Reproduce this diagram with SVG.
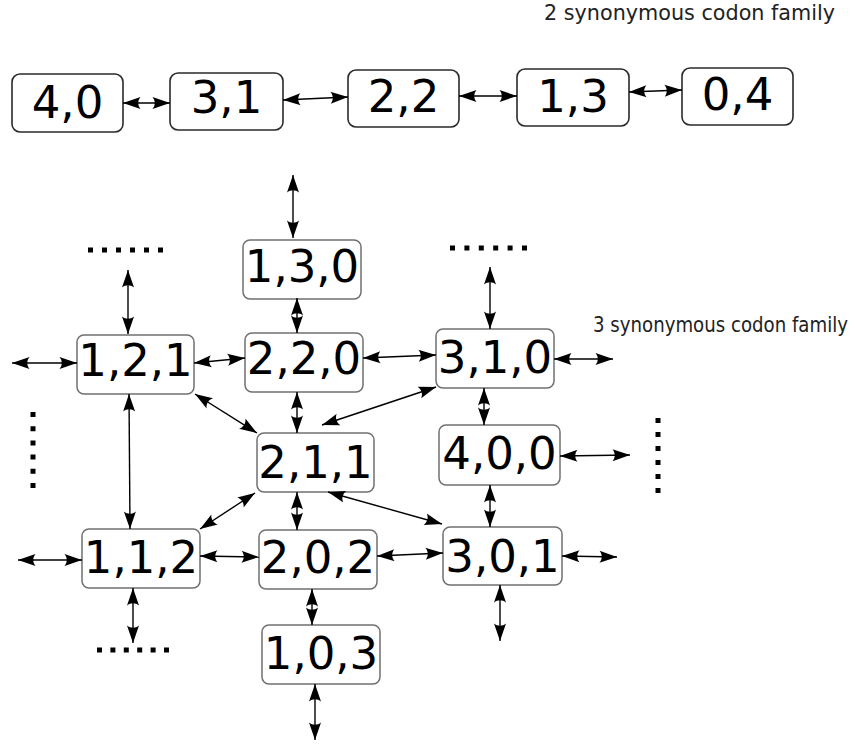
<svg xmlns="http://www.w3.org/2000/svg" width="855" height="745" viewBox="0 0 855 745">
<defs>
<marker id="ah" markerUnits="userSpaceOnUse" orient="auto-start-reverse" viewBox="-19 -8 20 16" markerWidth="20" markerHeight="16" refX="0" refY="0">
<path d="M0,0 L-17.5,-6 C-14.5,-2.5 -14.5,2.5 -17.5,6 Z" fill="#000"/>
</marker>
<style>
.top rect{fill:#fff;stroke:#2a2a2a;stroke-width:1.6}
.mid rect{fill:#fff;stroke:#707070;stroke-width:1.5}
.lbl{font-family:"DejaVu Sans",sans-serif;font-size:45px;fill:#000;text-anchor:middle}
.cap{font-family:"DejaVu Sans",sans-serif;font-size:20.5px;fill:#222}
.cap2{font-family:"DejaVu Sans Condensed","DejaVu Sans",sans-serif;font-stretch:condensed;font-size:20.5px;fill:#222}
#connectors line{stroke:#000;stroke-width:1.4;marker-start:url(#ah);marker-end:url(#ah)}
.dots line{stroke:#000;stroke-width:5}
</style>
</defs>
<rect width="855" height="745" fill="#fff"/>
<text class="cap" x="544" y="20" textLength="291" lengthAdjust="spacingAndGlyphs">2 synonymous codon family</text>
<text class="cap2" x="593" y="332" textLength="255" lengthAdjust="spacingAndGlyphs">3 synonymous codon family</text>

<g id="n40" class="top"><rect x="12" y="74" width="111" height="58" rx="8"/><text class="lbl" x="67.5" y="118">4,0</text></g>
<g id="n31" class="top"><rect x="170" y="73" width="113" height="57" rx="8"/><text class="lbl" x="226.5" y="113">3,1</text></g>
<g id="n22" class="top"><rect x="348" y="70" width="111" height="57" rx="8"/><text class="lbl" x="403.5" y="112">2,2</text></g>
<g id="n13" class="top"><rect x="517" y="69" width="112" height="57" rx="8"/><text class="lbl" x="573" y="112">1,3</text></g>
<g id="n04" class="top"><rect x="682" y="68" width="111" height="57" rx="8"/><text class="lbl" x="737.5" y="110">0,4</text></g>

<g id="n130" class="mid"><rect x="243" y="240" width="118" height="59" rx="7"/><text class="lbl" x="302" y="282">1,3,0</text></g>
<g id="n121" class="mid"><rect x="77" y="335" width="117" height="59" rx="7"/><text class="lbl" x="135.5" y="376">1,2,1</text></g>
<g id="n220" class="mid"><rect x="245" y="333" width="118" height="59" rx="7"/><text class="lbl" x="304" y="374">2,2,0</text></g>
<g id="n310" class="mid"><rect x="436" y="329" width="118" height="59" rx="7"/><text class="lbl" x="495" y="373">3,1,0</text></g>
<g id="n400" class="mid"><rect x="439" y="425" width="121" height="60" rx="7"/><text class="lbl" x="499.5" y="469">4,0,0</text></g>
<g id="n211" class="mid"><rect x="257" y="433" width="117" height="59" rx="7"/><text class="lbl" x="315.5" y="478">2,1,1</text></g>
<g id="n112" class="mid"><rect x="82" y="529" width="118" height="59" rx="7"/><text class="lbl" x="141" y="573">1,1,2</text></g>
<g id="n202" class="mid"><rect x="259" y="530" width="118" height="59" rx="7"/><text class="lbl" x="318" y="573">2,0,2</text></g>
<g id="n301" class="mid"><rect x="443" y="527" width="119" height="58" rx="7"/><text class="lbl" x="502.5" y="572">3,0,1</text></g>
<g id="n103" class="mid"><rect x="262" y="625" width="118" height="59" rx="7"/><text class="lbl" x="321" y="669">1,0,3</text></g>

<g id="connectors">
<line x1="123" y1="103" x2="170" y2="103"/>
<line x1="283" y1="100" x2="348" y2="97"/>
<line x1="459" y1="96" x2="517" y2="96"/>
<line x1="629" y1="92" x2="682" y2="90"/>

<line x1="293" y1="175" x2="293" y2="238"/>
<line x1="297" y1="298" x2="297" y2="333"/>
<line x1="128" y1="270" x2="128" y2="334"/>
<line x1="12" y1="363" x2="77" y2="363"/>
<line x1="194" y1="363" x2="245" y2="358"/>
<line x1="363" y1="358" x2="436" y2="355"/>
<line x1="490" y1="267" x2="490" y2="329"/>
<line x1="554" y1="359" x2="613" y2="359"/>
<line x1="484" y1="388" x2="484" y2="425"/>
<line x1="560" y1="456" x2="630" y2="455"/>
<line x1="490" y1="485" x2="490" y2="527"/>
<line x1="562" y1="556" x2="617" y2="557"/>
<line x1="500" y1="585" x2="500" y2="641"/>
<line x1="377" y1="556" x2="443" y2="553"/>
<line x1="328" y1="492" x2="442" y2="524"/>
<line x1="436" y1="387" x2="322" y2="425"/>
<line x1="297" y1="392" x2="297" y2="433"/>
<line x1="195" y1="394" x2="257" y2="433"/>
<line x1="129" y1="394" x2="130" y2="529"/>
<line x1="255" y1="493" x2="200" y2="529"/>
<line x1="297" y1="492" x2="297" y2="530"/>
<line x1="18" y1="560" x2="82" y2="560"/>
<line x1="200" y1="556" x2="259" y2="557"/>
<line x1="133" y1="588" x2="133" y2="643"/>
<line x1="312" y1="589" x2="312" y2="625"/>
<line x1="315" y1="684" x2="315" y2="740"/>
</g>

<g class="dots">
<line x1="88" y1="250" x2="163" y2="250" stroke-dasharray="5 9"/>
<line x1="450" y1="248" x2="527" y2="248" stroke-dasharray="5 9.4"/>
<line x1="97" y1="650" x2="169" y2="650" stroke-dasharray="5 8.4"/>
<line x1="33" y1="412" x2="33" y2="488" stroke-dasharray="5 9.2"/>
<line x1="658" y1="418" x2="658" y2="493" stroke-dasharray="5 9"/>
</g>
</svg>
